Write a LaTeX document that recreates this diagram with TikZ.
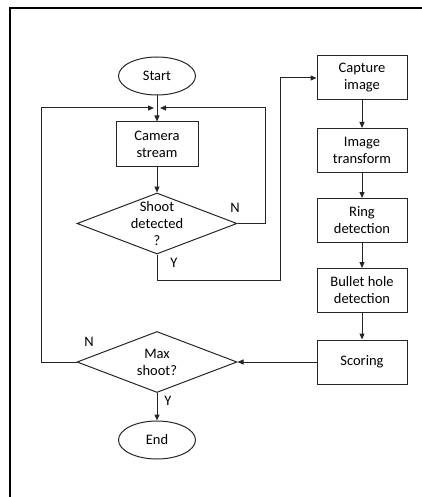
\documentclass[tikz,border=0pt]{standalone}
\usepackage{fontspec}
\setmainfont{Carlito}
\usetikzlibrary{arrows.meta,shapes.geometric}
\tikzset{
  term/.style={draw,ellipse,minimum width=77pt,minimum height=38pt,inner sep=0pt},
  proc/.style={draw,rectangle,minimum width=82pt,minimum height=44pt,align=center,inner sep=0pt},
  decision/.style={draw,diamond,minimum width=160pt,minimum height=61pt,inner sep=0pt},
  yn/.style={inner sep=0pt}
}
\begin{document}
\begin{tikzpicture}[x=1pt,y=-1pt,>={Triangle[length=6pt,width=5pt]},line width=1pt,
  draw=black!85,font=\fontsize{14.5}{17}\selectfont]
  \useasboundingbox (0,0) rectangle (422,497);
  \draw[line width=2.3pt,black] (10,497) -- (10,8) -- (422,8);

  % left column
  \node[term] (start) at (157,76) {Start};
  \node[proc] (cam) at (157,144) {Camera\\stream};
  \node[decision,label={[align=center]center:Shoot\\detected\\?}] (shoot) at (157,223.5) {};
  \node[decision,label={[align=center]center:Max\\shoot?}] (maxs) at (157,362) {};
  \node[term] (end) at (157,440) {End};

  % right column
  \node[proc,minimum width=90pt] (cap) at (362,78) {Capture\\image};
  \node[proc,minimum width=90pt] (trans) at (362,150.5) {Image\\transform};
  \node[proc,minimum width=90pt] (ring) at (362,220.5) {Ring\\detection};
  \node[proc,minimum width=90pt] (bullet) at (362,290.5) {Bullet hole\\detection};
  \node[proc,minimum width=90pt] (score) at (362,362) {Scoring};

  \coordinate (join) at (157,108);
  \coordinate (nright) at (265,108);
  \coordinate (nleft) at (41,108);
  \coordinate (ybend) at (280,280);

  \draw (start) -- (join);
  \draw[->] (join) -- (cam);
  \draw[->] (cam) -- (shoot);
  \draw[->] (shoot.east) -| (nright) -- ([xshift=3pt]join);
  \draw[->] (shoot.south) |- (ybend) |- (cap.west);
  \draw[->] (cap) -- (trans);
  \draw[->] (trans) -- (ring);
  \draw[->] (ring) -- (bullet);
  \draw[->] (bullet) -- (score);
  \draw[->] (score) -- (maxs);
  \draw[->] (maxs.west) -| (nleft) -- ([xshift=-3pt]join);
  \draw[->] (maxs) -- (end);

  \node[yn] (n1) at (235,208) {N};
  \node[yn] (y1) at (174,263) {Y};
  \node[yn] (n2) at (89,342) {N};
  \node[yn] (y2) at (168,401) {Y};
\end{tikzpicture}
\end{document}
